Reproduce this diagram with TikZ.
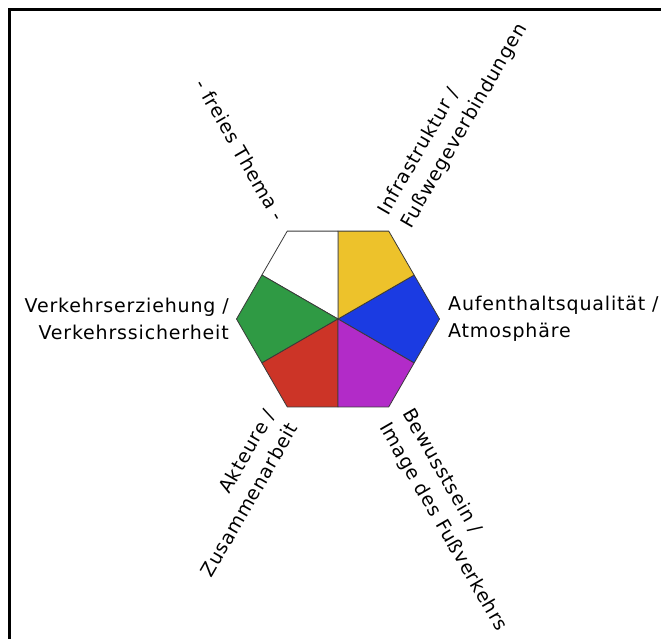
\documentclass[tikz,border=0pt]{standalone}
\usepackage{fontspec}
\setsansfont[LetterSpace=4.4]{DejaVu Sans}
\definecolor{atmo}{HTML}{1B3BE2}
\definecolor{infra}{HTML}{EDC22B}
\definecolor{frei}{HTML}{FFFFFF}
\definecolor{erzieh}{HTML}{2F9A44}
\definecolor{akteur}{HTML}{CC3427}
\definecolor{bewusst}{HTML}{B22BC8}
\definecolor{edge}{HTML}{3A3A3A}
\tikzset{
  lbl/.style={font=\sffamily\fontsize{19}{26.5}\selectfont, inner sep=0pt}
}

\begin{document}
\begin{tikzpicture}[x=1pt, y=1pt]
  \useasboundingbox (-338,-319) rectangle (323,319);

  % ── Frame (only top and left edge visible) ──
  \draw[black, line width=3pt] (-328.5,-330) -- (-328.5,309.5) -- (330,309.5);

  % ── Hexagon, split into six kites (edge midpoint - vertex - edge midpoint) ──
  \def\rout{101.5}
  \pgfmathsetmacro{\rin}{\rout*0.866}
  \foreach \a/\col in {0/atmo, 60/infra, 120/frei, 180/erzieh, 240/akteur, 300/bewusst} {
    \filldraw[fill=\col, draw=edge, line width=0.8pt, line join=round]
      (0,0) -- (\a-30:\rin) -- (\a:\rout) -- (\a+30:\rin) -- cycle;
  }

  % ── Labels round the hexagon ──
  \node[lbl, anchor=west, align=left] (atmolbl) at (0:110) {Aufenthaltsqualität /\\Atmosphäre};
  \node[lbl, rotate=60, anchor=west, align=left] (infralbl) at (60:114) {Infrastruktur /\\Fußwegeverbindungen};
  \node[lbl, rotate=-60, anchor=east] (freilbl) at (120:115) {- freies Thema -};
  \node[lbl, anchor=east, align=right] (erziehlbl) at (180:109) {Verkehrserziehung /\\Verkehrssicherheit};
  \node[lbl, rotate=60, anchor=east, align=right] (akteurlbl) at (240:114) {Akteure /\\Zusammenarbeit};
  \node[lbl, rotate=-60, anchor=west, align=left] (bewusstlbl) at (300:114) {Bewusstsein /\\Image des Fußverkehrs};

\end{tikzpicture}
\end{document}
